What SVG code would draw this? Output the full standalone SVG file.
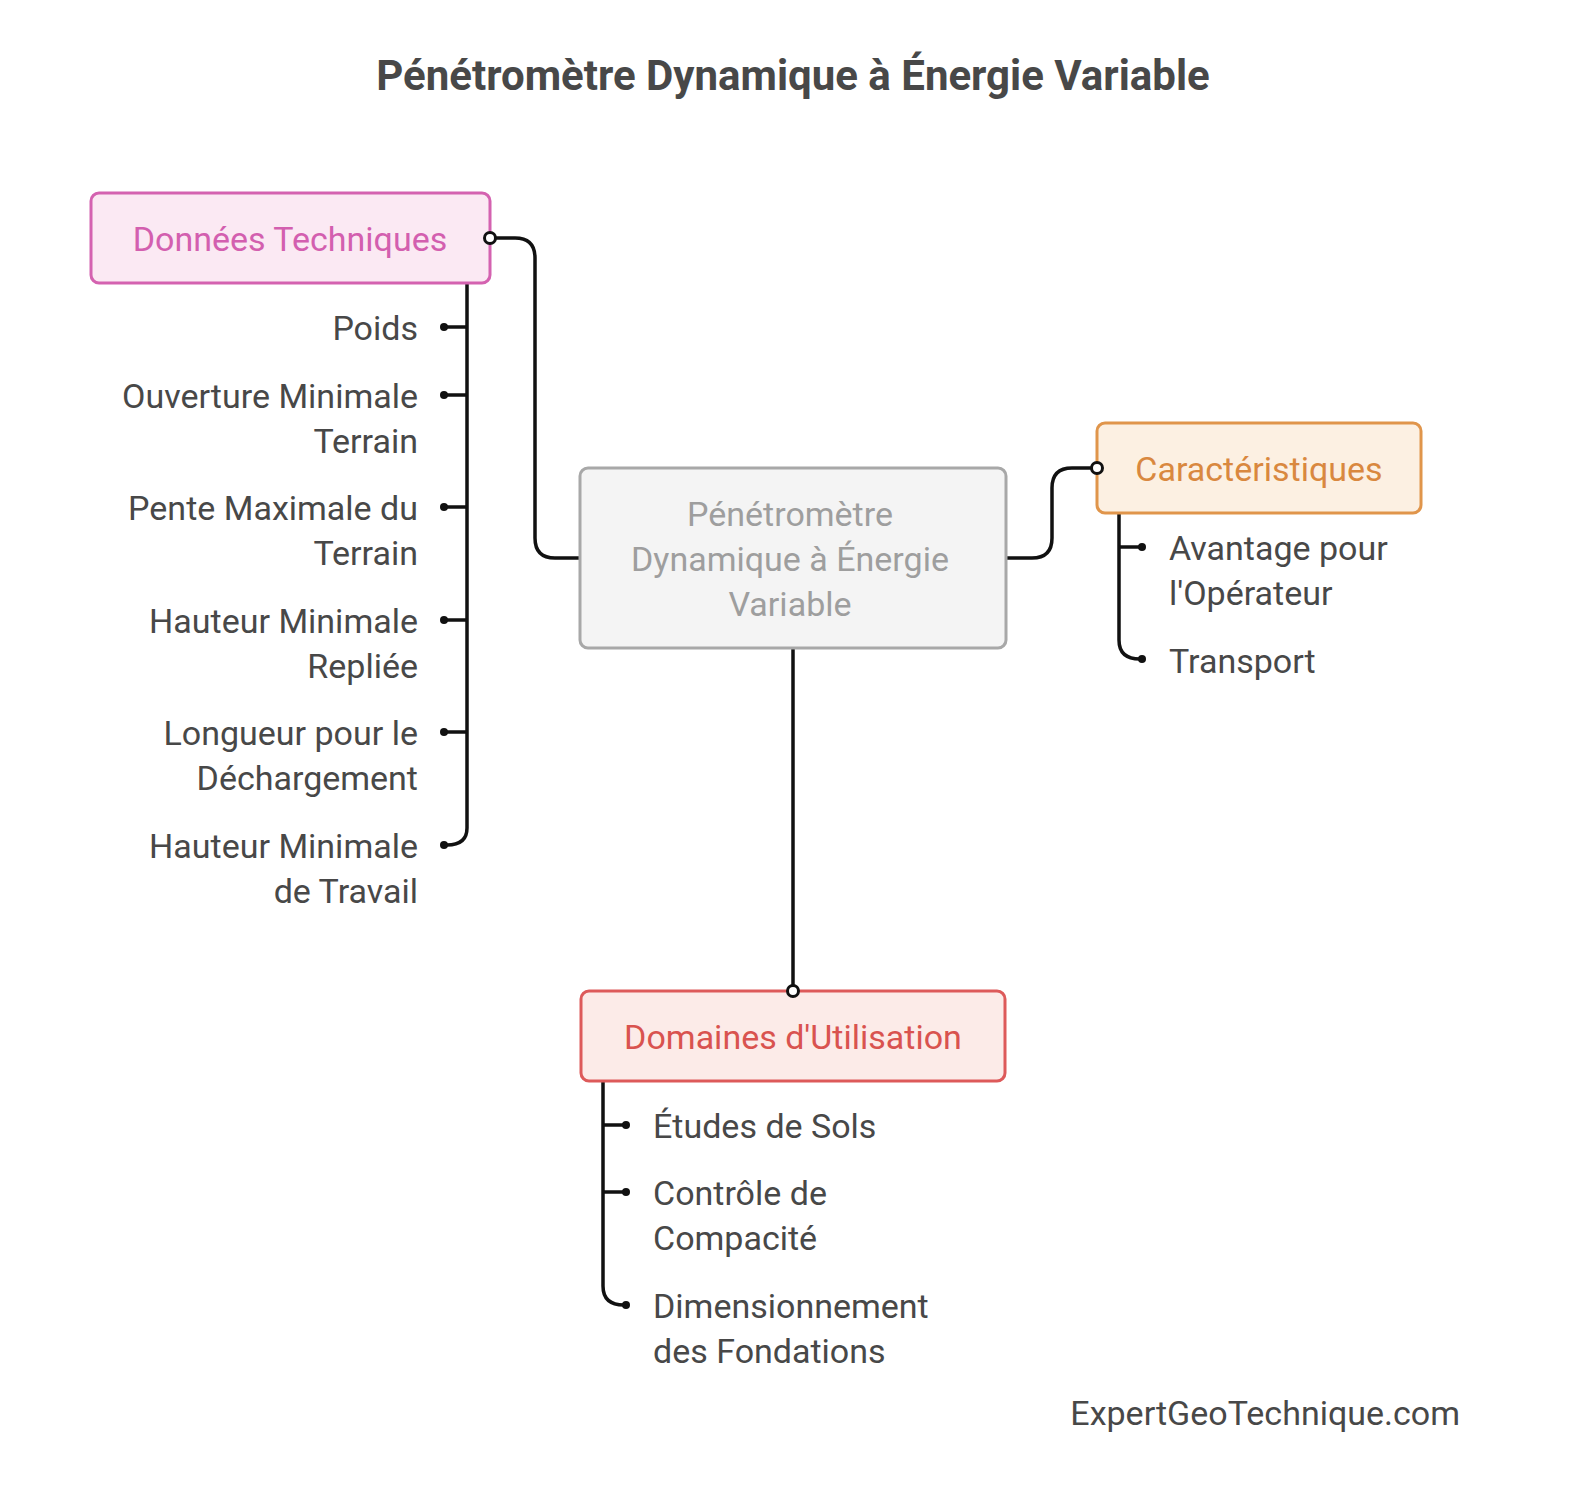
<svg xmlns="http://www.w3.org/2000/svg" width="1570" height="1505" viewBox="0 0 1570 1505">
<style>
text{font-family:Roboto,"Liberation Sans",sans-serif;font-size:34px}
.item{fill:#484848}
.l{text-anchor:end}
.c{text-anchor:middle}
.ln{fill:none;stroke:#111;stroke-width:3.5}
.dot{fill:#111}
.hc{fill:#fff;stroke:#111;stroke-width:3}
</style>
<rect width="1570" height="1505" fill="#fff"/>
<text x="793" y="90" class="c" style="font-size:42px;font-weight:bold;fill:#484848">Pénétromètre Dynamique à Énergie Variable</text>
<g id="connectors">
<path class="ln" d="M490,238 H515 Q535,238 535,258 V538 Q535,558 555,558 H580"/>
<path class="ln" d="M1006,558 H1032 Q1052,558 1052,538 V488 Q1052,468 1072,468 H1097"/>
<path class="ln" d="M793,648 V991"/>
<path class="ln" d="M467,283 V828 Q467,845 447,845"/>
<path class="ln" d="M445,327 H467 M445,395 H467 M445,507 H467 M445,620 H467 M445,732 H467"/>
<g class="dot"><circle cx="444" cy="327" r="4"/><circle cx="444" cy="395" r="4"/><circle cx="444" cy="507" r="4"/><circle cx="444" cy="620" r="4"/><circle cx="444" cy="732" r="4"/><circle cx="444" cy="845" r="4"/></g>
<path class="ln" d="M1119,513 V640 Q1119,659 1140,659"/>
<path class="ln" d="M1119,547 H1141"/>
<g class="dot"><circle cx="1142" cy="547" r="4"/><circle cx="1142" cy="659" r="4"/></g>
<path class="ln" d="M603,1081 V1286 Q603,1305 624,1305"/>
<path class="ln" d="M603,1125 H626 M603,1192 H626"/>
<g class="dot"><circle cx="626" cy="1125" r="4"/><circle cx="626" cy="1192" r="4"/><circle cx="626" cy="1305" r="4"/></g>
</g>
<g id="center">
<rect x="580" y="468" width="426" height="180" rx="8" fill="#F4F4F4" stroke="#A8A8A8" stroke-width="3"/>
<text x="790" y="526" class="c" fill="#9E9E9E">Pénétromètre</text>
<text x="790" y="571" class="c" fill="#9E9E9E">Dynamique à Énergie</text>
<text x="790" y="616" class="c" fill="#9E9E9E">Variable</text>
</g>
<g id="donnees">
<rect x="91" y="193" width="399" height="90" rx="8" fill="#FBE9F3" stroke="#D462B0" stroke-width="3"/>
<text x="290" y="251" class="c" fill="#D35FAF">Données Techniques</text>
<circle class="hc" cx="490" cy="238" r="5.5"/>
<text class="item l" x="418" y="340">Poids</text>
<text class="item l" x="418" y="408">Ouverture Minimale</text>
<text class="item l" x="418" y="453">Terrain</text>
<text class="item l" x="418" y="520">Pente Maximale du</text>
<text class="item l" x="418" y="565">Terrain</text>
<text class="item l" x="418" y="633">Hauteur Minimale</text>
<text class="item l" x="418" y="678">Repliée</text>
<text class="item l" x="418" y="745">Longueur pour le</text>
<text class="item l" x="418" y="790">Déchargement</text>
<text class="item l" x="418" y="858">Hauteur Minimale</text>
<text class="item l" x="418" y="903">de Travail</text>
</g>
<g id="caracteristiques">
<rect x="1097" y="423" width="324" height="90" rx="8" fill="#FCF0E2" stroke="#E0954B" stroke-width="3"/>
<text x="1259" y="481" class="c" fill="#D9883F">Caractéristiques</text>
<circle class="hc" cx="1097" cy="468" r="5.5"/>
<text class="item" x="1169" y="560">Avantage pour</text>
<text class="item" x="1169" y="605">l'Opérateur</text>
<text class="item" x="1169" y="673">Transport</text>
</g>
<g id="domaines">
<rect x="581" y="991" width="424" height="90" rx="8" fill="#FCEBE8" stroke="#DD5A5A" stroke-width="3"/>
<text x="793" y="1049" class="c" fill="#D9534F">Domaines d'Utilisation</text>
<circle class="hc" cx="793" cy="991" r="5.5"/>
<text class="item" x="653" y="1138">Études de Sols</text>
<text class="item" x="653" y="1205">Contrôle de</text>
<text class="item" x="653" y="1250">Compacité</text>
<text class="item" x="653" y="1318">Dimensionnement</text>
<text class="item" x="653" y="1363">des Fondations</text>
</g>
<text x="1460" y="1425" class="item l">ExpertGeoTechnique.com</text>
</svg>
